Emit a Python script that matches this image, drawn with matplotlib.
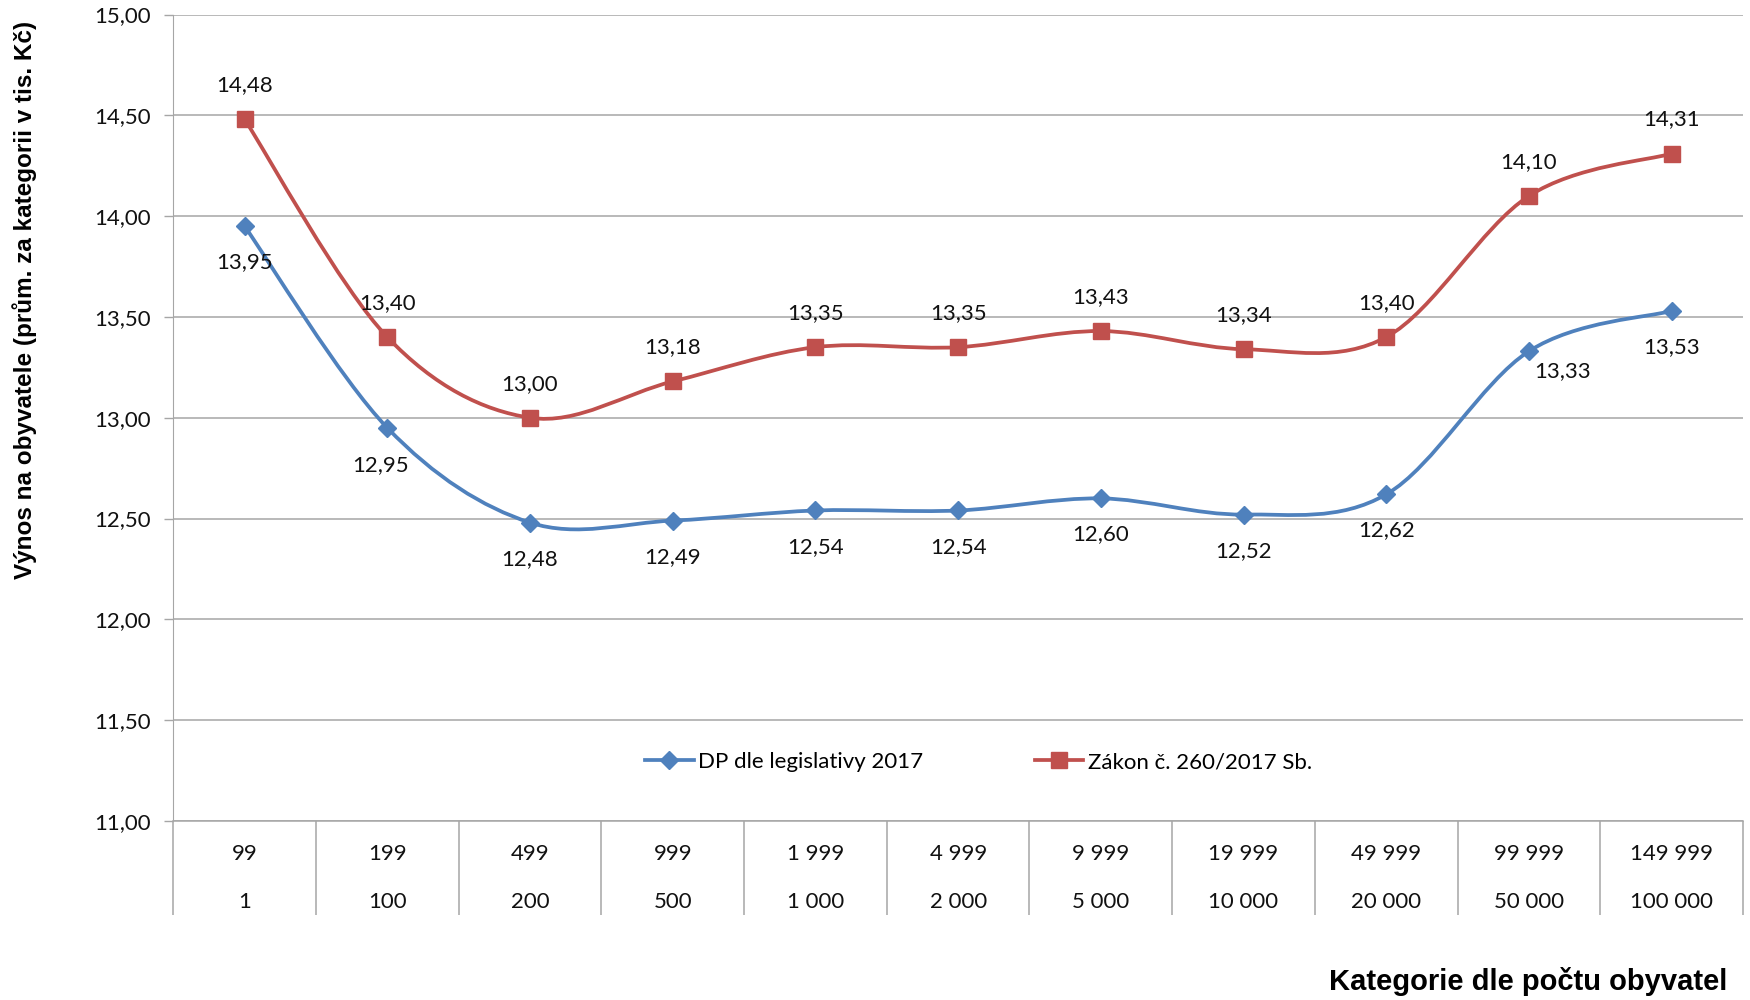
import numpy as np
import matplotlib
matplotlib.use("Agg")
import matplotlib.pyplot as plt
from matplotlib.path import Path
from matplotlib.patches import PathPatch
from matplotlib.lines import Line2D
import matplotlib.transforms as mtransforms

plt.rcParams['font.family'] = ['Lato', 'DejaVu Sans']

# data
cat_upper = ["99", "199", "499", "999", "1 999", "4 999", "9 999",
             "19 999", "49 999", "99 999", "149 999"]
cat_lower = ["1", "100", "200", "500", "1 000", "2 000", "5 000",
             "10 000", "20 000", "50 000", "100 000"]
dp_2017 = [13.95, 12.95, 12.48, 12.49, 12.54, 12.54, 12.60, 12.52, 12.62, 13.33, 13.53]
zakon_260 = [14.48, 13.40, 13.00, 13.18, 13.35, 13.35, 13.43, 13.34, 13.40, 14.10, 14.31]
series_names = ["DP dle legislativy 2017", "Zákon č. 260/2017 Sb."]
y_ticks = [11.0, 11.5, 12.0, 12.5, 13.0, 13.5, 14.0, 14.5, 15.0]

BLUE = "#4F81BD"
RED = "#C0504D"
GRID = "#A6A6A6"
TXT = "#111111"
FS = 16


def smooth_path(xs, ys):
    # excel-like smoothed line: cubic bezier through the points
    p = np.column_stack([xs, ys]).astype(float)
    n = len(p)
    verts = [p[0]]
    codes = [Path.MOVETO]
    for i in range(n - 1):
        p0 = p[max(i - 1, 0)]
        p1 = p[i]
        p2 = p[i + 1]
        p3 = p[min(i + 2, n - 1)]
        c1 = p1 + (p2 - p0) / 6.0
        c2 = p2 - (p3 - p1) / 6.0
        verts += [c1, c2, p2]
        codes += [Path.CURVE4] * 3
    return Path(verts, codes)


def fmt(v):
    return f"{v:.2f}".replace(".", ",")


fig = plt.figure(figsize=(17.5, 10), dpi=100)
ax = fig.add_axes([0.099, 0.179, 0.897, 0.8065])

x = np.arange(len(cat_upper))

for vals, col, mk, ms in [(dp_2017, BLUE, "D", 9), (zakon_260, RED, "s", 12)]:
    patch = PathPatch(smooth_path(x, vals), facecolor="none", edgecolor=col,
                      lw=2.7, capstyle="round", joinstyle="round", zorder=3)
    ax.add_patch(patch)
    ax.plot(x, vals, ls="none", marker=mk, ms=ms, color=col, mec=col, zorder=4)

# data labels
blue_special = {1: (-5, -27), 9: (24, -14)}
for i, v in enumerate(dp_2017):
    off = blue_special.get(i, (0, -26))
    ax.annotate(fmt(v), (x[i], v), xytext=off, textcoords="offset points",
                ha="center", va="center", fontsize=FS, color=TXT)
for i, v in enumerate(zakon_260):
    ax.annotate(fmt(v), (x[i], v), xytext=(0, 24.5), textcoords="offset points",
                ha="center", va="center", fontsize=FS, color=TXT)

ax.set_xlim(-0.5, len(cat_upper) - 0.5)
ax.set_ylim(11, 15)
ax.set_yticks(y_ticks)
ax.set_yticklabels([fmt(t) for t in y_ticks], fontsize=FS, color=TXT)
ax.tick_params(axis="y", length=6.5, width=1, color=GRID, pad=10)
ax.set_xticks([])
ax.grid(axis="y", color=GRID, lw=1.1)
ax.set_axisbelow(True)
for s in ["top", "right"]:
    ax.spines[s].set_visible(False)
ax.spines["left"].set_color(GRID)
ax.spines["bottom"].set_color(GRID)
ax.spines["bottom"].set_linewidth(1.1)

# category table under the axis
trans = mtransforms.blended_transform_factory(ax.transData, ax.transAxes)
seps = np.arange(len(cat_upper) + 1) - 0.5
ax.vlines(seps, -0.1166, 0, transform=trans, colors=GRID, lw=1.1, clip_on=False)
for i in range(len(cat_upper)):
    ax.text(x[i], -0.041, cat_upper[i], transform=trans, ha="center", va="center",
            fontsize=FS, color=TXT)
    ax.text(x[i], -0.1, cat_lower[i], transform=trans, ha="center", va="center",
            fontsize=FS, color=TXT)

handles = [Line2D([], [], color=BLUE, lw=2.7, marker="D", ms=9),
           Line2D([], [], color=RED, lw=2.7, marker="s", ms=11)]
ax.legend(handles, series_names, loc="center", bbox_to_anchor=(0.513, 0.073),
          ncol=2, frameon=False, fontsize=FS, handlelength=2.2,
          handletextpad=0.2, columnspacing=5.0)

fig.text(0.0143, 0.70, "Výnos na obyvatele (prům. za kategorii v tis. Kč)",
         rotation=90, ha="center", va="center", fontsize=17.5, fontweight="bold",
         family=["Liberation Sans", "DejaVu Sans"])
fig.text(0.987, 0.018, "Kategorie dle počtu obyvatel", ha="right", va="center",
         fontsize=21, fontweight="bold", family=["Liberation Sans", "DejaVu Sans"])

fig.savefig("out.png", dpi=100)
